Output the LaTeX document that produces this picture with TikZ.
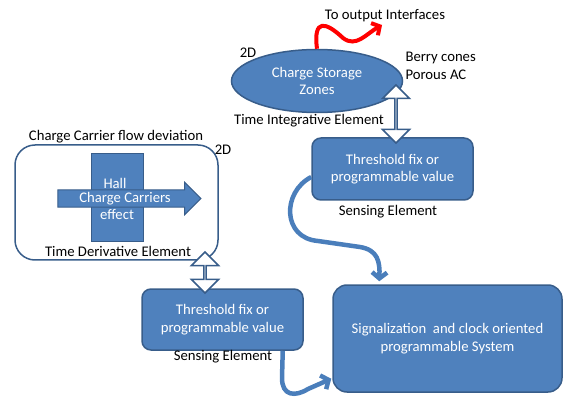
\documentclass[tikz,border=0pt]{standalone}
\usepackage{fontspec}
\setmainfont{Carlito}
\usetikzlibrary{shapes.geometric,shapes.arrows,arrows.meta,calc}
\definecolor{boxblue}{HTML}{4F81BD}
\definecolor{edgeblue}{HTML}{385D8A}
\definecolor{flowblue}{HTML}{4A7EBB}
\begin{document}
\begin{tikzpicture}[x=1pt,y=-1pt,font=\fontsize{14.7}{17.6}\selectfont,
	bluebox/.style={draw=edgeblue,line width=1.5pt,fill=boxblue,text=white,align=center,rounded corners=9pt},
	hollow/.style={shape=double arrow,draw=edgeblue,line width=1.5pt,fill=white,rotate=90,inner sep=0pt,
		minimum width=27pt,double arrow head extend=7.5pt},
	flow/.style={flowblue,line width=4.5pt,-{Straight Barb[length=6pt,width=15pt]}}]
	\useasboundingbox (0,0) rectangle (565,398);
	% nodes
	\node[bluebox,ellipse,minimum width=171pt,minimum height=63pt,inner sep=0pt] (zones) at (317,81) {Charge Storage\\Zones};
	\node[bluebox,minimum width=161pt,minimum height=62pt] (thr1) at (392.5,169) {Threshold fix or\\programmable value};
	\node[bluebox,minimum width=161pt,minimum height=61pt] (thr2) at (222.5,319.5) {Threshold fix or\\programmable value};
	\node[bluebox,minimum width=229pt,minimum height=107pt,rounded corners=14pt] (sys) at (447.5,338.5) {Signalization\ \ and clock oriented\\programmable System};
	\node[draw=edgeblue,line width=1.5pt,rounded corners=20pt,minimum width=203pt,minimum height=115pt] (frame) at (116.5,202.5) {};
	\node[fill=boxblue,draw=edgeblue,line width=1pt,minimum width=52pt,minimum height=88pt] (hall) at (117,198) {};
	\node[single arrow,fill=boxblue,draw=edgeblue,line width=1pt,text=white,inner sep=1.8pt,
		minimum height=143pt,single arrow head extend=7.5pt] (carriers) at (125,198.5) {Charge Carriers};
	\node[text=white,inner sep=1pt] (hallup) at (115,183.5) {Hall};
	\node[text=white,inner sep=1pt] (halldown) at (117,214.5) {effect};
	% labels
	\node (output) at (385,16) {To output Interfaces};
	\node (twod1) at (248,53) {2D};
	\node[anchor=west,align=left] (berry) at (402,66) {Berry cones\\Porous AC};
	\node (integ) at (309,121) {Time Integrative Element};
	\node (sense1) at (388,212) {Sensing Element};
	\node (flowlbl) at (116,137) {Charge Carrier flow deviation};
	\node (twod2) at (223,150) {2D};
	\node (deriv) at (118,251) {Time Derivative Element};
	\node (sense2) at (223,357) {Sensing Element};
	% hollow arrows
	\node[hollow,minimum height=58pt] (link1) at (396,114) {};
	\node[hollow,minimum height=41pt] (link2) at (205,272.5) {};
	% connectors
	\draw[red,line width=4pt,-{Straight Barb[length=6pt,width=14pt]}] (zones.north) .. controls (313,18) and (326,22) .. (343,38)
		.. controls (356,48) and (366,34) .. (382,25);
	\draw[flow] ([yshift=-8pt]thr1.west) .. controls (282,192) and (282,238) .. (318,241)
		-- (360,247) .. controls (378,250) and (380,262) .. ($(sys.north west)+(47,-3)$);
	\draw[flow] ([xshift=-21pt]thr2.south east) -- (282,378) .. controls (282,396) and (295,397) .. (308,389)
		-- ($(sys.south west)+(-1,-14)$);
\end{tikzpicture}
\end{document}
